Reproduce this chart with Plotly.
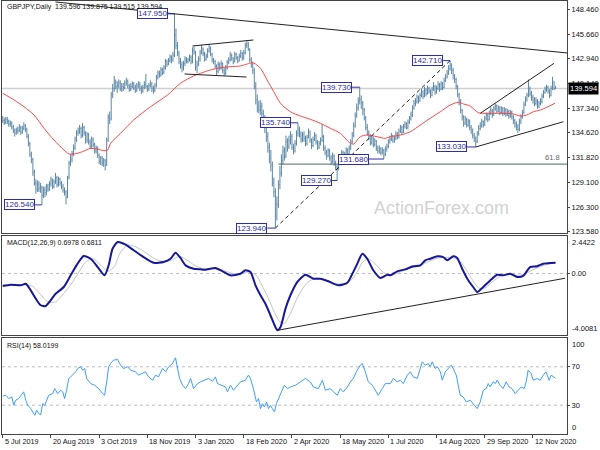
import pandas as pd
import plotly.graph_objects as go
from plotly.subplots import make_subplots

# ---------------- data ----------------
close = [
    136.0, 135.8, 136.1, 135.9, 135.6, 135.7, 135.3, 134.9, 134.6, 134.8,
    134.9, 135.2, 134.7, 135.1, 135.4, 135.0, 134.2, 133.4, 132.2, 131.6,
    130.2, 129.0, 128.3, 128.9, 128.4, 128.5, 127.6, 128.2, 127.9, 128.6,
    128.3, 128.9, 129.3, 128.6, 129.1, 129.6, 128.8, 129.4, 129.0, 128.6,
    128.2, 128.0, 127.4, 129.6, 131.2, 131.6, 132.3, 132.9, 133.9, 134.6,
    134.8, 135.1, 134.3, 135.2, 134.6, 133.8, 134.4, 133.6, 133.1, 133.9,
    133.3, 132.6, 132.9, 132.1, 131.4, 131.8, 131.2, 131.5, 131.0, 133.8,
    136.4, 136.2, 138.9, 139.6, 140.3, 139.8, 139.9, 140.2, 139.6, 139.8,
    139.7, 140.2, 140.4, 139.9, 139.5, 139.8, 140.1, 139.7, 139.4, 139.9,
    140.0, 139.6, 139.3, 139.7, 140.0, 139.8, 139.5, 139.9, 140.1, 139.6,
    139.4, 139.9, 140.8, 141.3, 141.1, 141.7, 141.4, 141.9, 142.6, 142.3,
    142.7, 143.1, 142.8, 143.3, 145.6, 144.4, 143.6, 142.6, 142.3, 142.0,
    142.4, 142.9, 142.6, 142.8, 143.1, 142.6, 143.9, 143.7, 142.0, 142.3,
    142.9, 143.6, 144.0, 143.5, 142.9, 143.2, 143.8, 144.1, 143.4, 142.8,
    142.6, 142.1, 141.5, 142.3, 141.9, 142.4, 141.6, 141.3, 141.9, 142.5,
    142.8, 143.3, 143.0, 142.6, 143.4, 143.1, 142.7, 143.2, 143.5, 143.0,
    143.6, 144.4, 144.6, 144.0, 142.8, 142.3, 141.6, 139.8, 138.3, 137.5,
    137.2, 137.6, 136.8, 136.0, 135.4, 134.2, 133.0, 131.8, 131.0, 129.0,
    128.0, 125.3, 126.6, 128.8, 130.1, 131.5, 132.6, 132.0, 133.6, 133.1,
    133.8, 134.2, 133.0, 132.6, 133.4, 134.6, 135.0, 134.5, 133.9, 134.4,
    134.0, 133.4, 134.1, 134.7, 133.8, 133.2, 133.9, 134.3, 133.6, 133.0,
    133.4, 133.8, 134.2, 132.9, 132.4, 132.0, 132.6, 131.8, 131.4, 132.0,
    131.2, 130.8, 130.6, 131.4, 131.9, 132.4, 131.8, 132.2, 132.7, 132.3,
    132.9, 133.6, 134.3, 135.4, 136.6, 137.4, 138.2, 138.4, 138.0, 137.2,
    136.3, 135.2, 134.6, 134.2, 133.5, 134.0, 133.3, 133.7, 132.9, 132.6,
    132.9, 132.4, 132.7, 132.2, 132.8, 133.1, 133.6, 133.9, 134.3, 133.7,
    134.0, 134.5, 134.1, 134.8, 135.2, 134.7, 135.3, 135.6, 135.2, 135.8,
    136.2, 136.6, 137.4, 137.9, 138.1, 138.6, 138.2, 138.8, 139.2, 138.7,
    139.4, 139.0, 139.6, 139.3, 138.8, 139.5, 139.8, 139.2, 139.6, 140.0,
    139.5, 140.1, 139.7, 140.5, 140.9, 141.3, 141.8, 142.2, 141.6, 141.0,
    140.6, 139.8, 138.9, 138.2, 137.1, 136.4, 135.7, 136.1, 135.5, 135.9,
    135.2, 134.8, 134.3, 134.0, 133.6, 134.5, 135.1, 135.4, 135.9, 135.5,
    136.2, 136.6, 136.1, 136.8, 137.1, 136.6, 137.3, 137.6, 137.0, 137.4,
    136.9, 137.3, 136.8, 137.2, 136.7, 137.0, 136.5, 136.9, 136.4, 136.0,
    135.6, 135.3, 135.0, 135.9, 136.4, 136.9, 137.8, 138.4, 138.8, 139.6,
    139.0, 138.6, 138.3, 137.9, 138.2, 137.6, 137.9, 138.1, 138.7, 139.1,
    139.5, 139.7, 139.3, 138.8, 139.6, 140.3, 139.6, 139.594,
]
high = [
    136.5, 136.3, 136.4, 136.4, 136.1, 136.0, 135.9, 135.5, 135.1, 135.2,
    135.3, 135.6, 135.4, 135.4, 135.8, 135.6, 135.2, 134.5, 133.6, 132.5,
    131.8, 130.5, 129.4, 129.3, 129.2, 129.0, 128.7, 128.6, 128.6, 128.9,
    128.9, 129.2, 129.7, 129.5, 129.4, 130.1, 129.8, 129.7, 129.6, 129.2,
    128.9, 128.5, 128.2, 129.8, 131.5, 132.2, 132.6, 133.3, 134.2, 134.9,
    135.2, 135.5, 135.3, 135.7, 135.4, 134.8, 134.7, 134.6, 133.9, 134.2,
    134.1, 133.5, 133.2, 133.1, 132.3, 132.0, 132.0, 131.8, 131.7, 134.1,
    136.7, 137.0, 139.2, 140.1, 141.0, 140.6, 140.4, 140.6, 140.5, 140.2,
    140.2, 140.5, 140.8, 140.6, 140.1, 140.2, 140.4, 140.3, 140.0, 140.2,
    140.4, 140.3, 139.9, 140.0, 140.4, 141.2, 140.0, 140.2, 140.5, 140.3,
    139.9, 140.2, 141.1, 141.6, 141.6, 142.0, 141.9, 142.2, 142.9, 142.8,
    143.0, 143.4, 143.3, 143.7, 147.95, 146.3, 144.8, 143.8, 143.0, 142.6,
    142.7, 143.2, 143.1, 143.0, 143.4, 143.3, 144.2, 144.3, 143.8, 142.7,
    143.2, 143.9, 144.5, 144.2, 143.7, 143.5, 144.1, 144.6, 144.3, 143.6,
    143.0, 142.8, 142.3, 142.6, 142.5, 142.7, 142.5, 141.9, 142.2, 142.8,
    143.1, 143.7, 143.5, 143.1, 143.7, 143.6, 143.2, 143.5, 143.9, 143.7,
    143.9, 144.7, 145.0, 144.8, 144.1, 143.1, 142.6, 141.9, 140.3, 138.9,
    138.2, 138.3, 138.0, 137.2, 136.6, 136.0, 134.7, 133.5, 132.7, 131.4,
    129.6, 128.4, 127.5, 129.3, 130.9, 132.2, 133.2, 133.0, 134.3, 134.0,
    134.3, 134.8, 134.5, 133.4, 133.8, 134.9, 135.74, 135.3, 134.8, 134.7,
    134.8, 134.3, 134.4, 135.1, 134.9, 134.0, 134.2, 134.7, 134.5, 133.8,
    133.7, 134.1, 135.6, 134.4, 133.2, 132.7, 132.9, 132.8, 132.1, 132.4,
    132.2, 131.5, 131.0, 131.7, 132.2, 132.7, 132.6, 132.5, 133.0, 132.9,
    133.2, 133.9, 134.7, 135.8, 136.9, 137.9, 138.6, 139.73, 138.8, 138.2,
    137.4, 136.5, 135.6, 134.9, 134.5, 134.3, 134.2, 134.0, 133.8, 133.2,
    133.2, 133.0, 133.0, 132.8, 133.1, 133.4, 133.9, 134.3, 134.6, 134.4,
    134.3, 134.8, 134.7, 135.1, 135.5, 135.4, 135.6, 135.9, 135.8, 136.1,
    136.5, 137.0, 137.7, 138.3, 138.5, 138.9, 138.8, 139.1, 139.6, 139.4,
    139.8, 139.6, 139.9, 139.8, 139.5, 139.8, 140.3, 140.0, 139.9, 140.4,
    140.2, 140.4, 140.3, 140.8, 141.2, 141.7, 142.2, 142.71, 142.4, 141.9,
    141.2, 140.8, 140.0, 139.1, 138.4, 137.3, 136.6, 136.5, 136.3, 136.2,
    136.1, 135.5, 135.1, 134.6, 134.2, 134.8, 135.5, 135.8, 136.2, 136.0,
    136.5, 136.9, 136.8, 137.1, 137.5, 137.3, 137.6, 137.9, 137.8, 137.7,
    137.6, 137.6, 137.5, 137.5, 137.4, 137.3, 137.2, 137.2, 137.1, 136.6,
    136.2, 135.9, 135.6, 136.2, 136.7, 137.2, 138.1, 138.7, 139.1, 140.6,
    139.8, 139.3, 138.9, 138.6, 138.6, 138.4, 138.2, 138.5, 139.0, 139.4,
    139.8, 140.0, 139.9, 139.5, 139.9, 140.9, 140.4, 139.875,
]
low = [
    135.7, 135.5, 135.6, 135.6, 135.3, 135.3, 135.0, 134.6, 134.2, 134.4,
    134.5, 134.7, 134.4, 134.5, 134.9, 134.7, 134.0, 133.1, 131.9, 131.2,
    129.8, 128.7, 127.8, 128.0, 128.0, 127.9, 126.54, 127.3, 127.4, 127.6,
    128.0, 128.1, 128.6, 128.3, 128.4, 128.9, 128.5, 128.6, 128.7, 128.3,
    127.9, 127.6, 126.6, 127.3, 129.4, 130.9, 131.3, 132.0, 132.7, 133.6,
    134.3, 134.5, 134.0, 134.1, 134.3, 133.4, 133.5, 133.3, 132.8, 132.9,
    133.0, 132.3, 132.3, 131.8, 131.1, 131.0, 130.9, 130.8, 130.4, 130.9,
    133.6, 135.6, 136.0, 138.5, 139.2, 139.5, 139.1, 139.6, 139.3, 139.2,
    139.3, 139.5, 139.9, 139.6, 139.2, 139.3, 139.6, 139.4, 139.1, 139.2,
    139.6, 139.3, 139.0, 139.1, 139.5, 139.6, 139.2, 139.3, 139.7, 139.2,
    139.0, 139.2, 139.7, 140.6, 140.8, 140.9, 141.1, 141.2, 141.7, 142.0,
    142.2, 142.5, 142.4, 142.6, 143.1, 144.0, 143.2, 142.3, 141.8, 141.4,
    141.6, 142.1, 142.4, 142.4, 142.6, 142.3, 142.4, 143.4, 141.6, 141.3,
    142.1, 142.6, 143.4, 143.2, 142.6, 142.7, 143.0, 143.6, 143.2, 142.5,
    142.3, 141.8, 141.1, 141.3, 141.6, 141.7, 141.3, 141.0, 141.1, 141.7,
    142.3, 142.6, 142.7, 142.3, 142.5, 142.8, 142.4, 142.6, 143.0, 142.7,
    142.8, 143.4, 144.1, 143.8, 142.5, 141.9, 141.2, 139.5, 137.8, 136.9,
    136.8, 136.6, 136.4, 135.6, 134.6, 133.6, 132.4, 131.2, 130.3, 128.6,
    127.4, 123.94, 124.8, 126.2, 128.3, 129.7, 131.1, 131.5, 131.8, 132.5,
    132.8, 133.3, 132.7, 132.2, 132.4, 133.2, 134.2, 134.1, 133.5, 133.6,
    133.6, 133.1, 133.2, 134.0, 133.5, 132.8, 133.0, 133.7, 133.3, 132.7,
    132.8, 133.2, 133.6, 132.6, 132.1, 131.6, 131.9, 131.5, 131.0, 131.2,
    130.9, 130.4, 129.27, 130.4, 131.1, 131.6, 131.5, 131.6, 132.0, 132.0,
    132.1, 132.7, 133.4, 134.1, 135.2, 136.3, 137.1, 137.8, 137.3, 136.6,
    136.0, 134.9, 134.3, 133.8, 133.2, 133.3, 133.0, 133.1, 132.6, 132.3,
    132.3, 132.1, 132.2, 131.68, 132.0, 132.5, 132.9, 133.4, 133.7, 133.5,
    133.5, 133.8, 133.9, 134.0, 134.6, 134.4, 134.6, 135.1, 135.0, 135.0,
    135.6, 136.0, 136.4, 137.2, 137.6, 137.9, 137.9, 138.1, 138.6, 138.4,
    138.6, 138.7, 138.9, 139.0, 138.5, 138.7, 139.3, 138.9, 139.0, 139.4,
    139.2, 139.4, 139.4, 139.6, 140.3, 140.7, 141.1, 141.6, 141.2, 140.6,
    140.2, 139.5, 138.6, 137.7, 136.8, 136.0, 135.3, 135.5, 135.2, 135.3,
    134.9, 134.5, 134.0, 133.6, 133.03, 133.5, 134.3, 134.9, 135.2, 135.2,
    135.4, 136.0, 135.8, 136.0, 136.6, 136.3, 136.5, 137.1, 136.8, 136.9,
    136.6, 136.7, 136.5, 136.6, 136.4, 136.5, 136.2, 136.3, 136.1, 135.6,
    135.2, 134.9, 134.6, 134.8, 135.6, 136.2, 136.7, 137.6, 138.1, 138.6,
    138.7, 138.2, 137.9, 137.6, 137.7, 137.3, 137.4, 137.7, 137.9, 138.5,
    139.0, 139.2, 139.0, 138.5, 138.7, 139.4, 139.4, 139.515,
]

# moving average (red line), sampled at bar positions
ma_x = [0, 7.5, 14.1, 20.8, 27.4, 34.0, 40.6, 44.0, 47.3, 52.9,
        58.4, 62.8, 67.2, 69.6, 71.6, 78.2, 86.9, 98.1, 109.4, 118.0,
        126.7, 131.3, 137.9, 144.6, 151.2, 157.8, 162.3, 165.6, 167.8, 171.1,
        175.5, 179.9, 184.4, 191.0, 197.6, 204.2, 210.9, 217.5, 224.1, 230.8,
        233.0, 237.4, 241.8, 248.5, 254.0, 257.3, 263.9, 270.6, 277.2, 283.8,
        290.5, 297.1, 302.6, 305.9, 310.3, 315.8, 321.4, 328.0, 334.7, 339.1,
        343.5, 347.9, 352.3, 356.8, 361.2, 366.6]
ma_y = [139.05, 138.30, 137.54, 136.61, 135.12, 133.81, 132.69, 132.24, 132.24, 132.50,
        132.88, 132.80, 132.61, 132.69, 133.44, 134.56, 136.05, 137.54, 138.86, 140.17,
        140.99, 141.29, 141.66, 141.92, 142.03, 142.11, 142.33, 142.48, 142.33, 141.85,
        140.54, 139.23, 137.93, 136.98, 136.50, 136.13, 135.68, 135.12, 134.56, 133.44,
        133.36, 134.18, 134.37, 134.18, 134.00, 134.18, 134.37, 134.74, 135.49, 136.24,
        136.98, 137.73, 138.04, 137.85, 137.62, 136.87, 136.80, 136.80, 136.80, 136.73,
        136.50, 136.61, 136.98, 137.17, 137.48, 137.93]

# MACD(12,26,9)
macd_x = [0, 5.3, 11.9, 15.3, 18.6, 21.9, 25.2, 28.5, 31.8, 35.1,
          40.5, 45.1, 49.7, 53.7, 58.4, 63.0, 67.6, 70.3, 72.9, 76.3,
          81.6, 86.9, 93.5, 100.1, 106.8, 111.4, 114.7, 118.0, 121.4, 126.7,
          131.3, 134.6, 141.2, 145.9, 151.2, 157.8, 161.1, 164.5, 167.8, 171.1,
          174.4, 177.7, 181.0, 182.4, 184.4, 187.7, 191.0, 195.6, 200.9, 206.2,
          210.9, 216.2, 222.8, 228.8, 232.1, 235.4, 238.7, 242.0, 246.0, 250.7,
          255.3, 257.3, 261.9, 267.2, 272.5, 277.2, 280.5, 283.8, 288.5, 292.4,
          295.1, 299.1, 301.7, 305.0, 308.4, 312.3, 315.0, 319.0, 323.6, 328.2,
          332.2, 336.9, 341.5, 345.5, 350.1, 354.8, 358.8, 363.4, 367]
macd_y = [-0.82, -0.73, -0.77, -0.67, -1.10, -1.64, -2.07, -2.12, -1.75, -1.32,
          -0.88, -0.12, 0.64, 1.14, 0.96, 0.42, -0.12, 0.53, 1.61, 2.05,
          1.88, 1.51, 1.07, 0.70, 0.75, 0.96, 1.35, 1.01, 0.53, 0.31,
          0.27, 0.25, 0.36, 0.14, -0.12, -0.02, 0.21, 0.10, -0.77, -1.42,
          -1.97, -2.72, -3.49, -3.70, -3.49, -2.29, -1.42, -0.55, -0.08, -0.34,
          -0.34, -0.51, -0.77, -0.60, -0.02, 0.64, 1.29, 0.96, 0.21, -0.29,
          -0.08, -0.12, 0.14, 0.27, 0.47, 0.53, 0.86, 0.96, 1.12, 1.07,
          0.86, 1.12, 1.01, 0.31, -0.34, -0.88, -1.21, -0.88, -0.45, -0.08,
          -0.12, -0.02, -0.23, -0.16, 0.42, 0.47, 0.64, 0.69, 0.6978]
signal_x = [0, 8, 15, 20, 25, 30, 35, 40, 45, 50,
            55, 60, 65, 70, 74, 78, 83, 88, 95, 101,
            107, 112, 117, 122, 127, 133, 140, 146, 152, 158,
            163, 168, 172, 176, 180, 184, 187, 191, 196, 202,
            208, 214, 220, 226, 231, 235, 239, 243, 248, 253,
            258, 264, 270, 277, 283, 289, 295, 300, 304, 308,
            312, 316, 320, 325, 330, 336, 342, 347, 352, 357,
            362, 367]
signal_y = [-0.75, -0.74, -0.73, -0.85, -1.35, -1.85, -1.85, -1.35, -0.75, 0.0,
            0.75, 0.95, 0.55, 0.15, 0.45, 1.35, 1.85, 1.75, 1.35, 0.95,
            0.78, 0.85, 1.12, 0.90, 0.55, 0.32, 0.30, 0.22, 0.02, -0.02,
            0.10, -0.10, -0.75, -1.55, -2.45, -3.15, -3.25, -2.60, -1.50, -0.60,
            -0.30, -0.40, -0.62, -0.70, -0.45, 0.05, 0.75, 0.95, 0.55, 0.05,
            -0.10, 0.10, 0.35, 0.50, 0.80, 1.00, 1.05, 1.00, 0.75, 0.20,
            -0.45, -0.95, -0.95, -0.55, -0.20, -0.07, -0.12, -0.02, 0.25, 0.45,
            0.60, 0.6811]

# RSI(14)
rsi_x = [0, 2.0, 4.0, 6.0, 7.3, 8.6, 10.6, 13.3, 13.9, 15.3,
         16.6, 18.6, 19.9, 21.2, 22.5, 23.9, 25.2, 26.5, 27.9, 29.2,
         30.5, 33.2, 34.5, 36.5, 38.5, 39.8, 41.1, 42.4, 43.8, 45.1,
         46.4, 48.4, 49.7, 51.7, 53.1, 54.4, 55.7, 58.4, 61.0, 63.7,
         66.3, 67.6, 69.0, 70.3, 71.6, 73.6, 76.3, 78.2, 80.2, 82.9,
         84.9, 88.2, 90.2, 92.8, 94.8, 96.8, 99.5, 101.5, 103.4, 106.1,
         108.1, 110.1, 112.7, 114.7, 116.0, 117.4, 119.4, 121.4, 123.3, 124.7,
         126.7, 129.3, 131.3, 134.6, 136.6, 139.3, 141.2, 142.6, 145.9, 147.9,
         149.2, 151.2, 153.2, 155.8, 157.8, 161.1, 163.1, 164.5, 166.4, 168.4,
         169.8, 171.1, 172.4, 173.7, 175.1, 176.4, 177.7, 179.0, 180.4, 181.7,
         183.0, 185.0, 187.0, 189.0, 191.0, 194.3, 197.6, 200.9, 204.2, 206.2,
         209.5, 212.2, 214.2, 217.5, 219.5, 222.1, 224.1, 226.1, 228.8, 230.8,
         232.8, 234.7, 237.4, 238.7, 240.7, 242.7, 245.4, 247.3, 249.3, 252.0,
         254.0, 257.3, 259.3, 261.9, 263.9, 265.9, 268.6, 270.6, 272.5, 275.2,
         277.2, 278.5, 280.5, 282.5, 283.8, 285.1, 287.1, 288.5, 290.5, 291.8,
         293.8, 295.8, 297.7, 299.1, 301.1, 302.4, 303.7, 305.7, 307.7, 310.3,
         312.3, 313.7, 315.0, 317.0, 319.0, 321.0, 322.3, 323.6, 325.6, 327.0,
         328.2, 330.2, 332.2, 334.2, 336.2, 338.2, 340.2, 342.2, 344.2, 346.2,
         347.5, 348.8, 350.8, 352.2, 354.8, 356.8, 358.8, 360.7, 362.7, 364.1,
         366.0, 367]
rsi_y = [39.4, 40.4, 36.9, 38.6, 30, 35.2, 36.9, 42, 43.9, 35.2,
         30, 26.4, 23, 19.5, 24.8, 21.2, 20.2, 31.6, 30, 35.2,
         40.4, 42, 47.3, 42, 45.6, 43.9, 36.9, 45.6, 57.8, 59.5,
         61.3, 64.8, 68.2, 70, 66.5, 68.2, 57.8, 52.5, 50.8, 47.3,
         42, 40.4, 54.3, 70, 73.4, 77, 77.6, 71.7, 68.2, 70,
         66.5, 64.8, 61.3, 63, 64.8, 59.5, 56, 61.3, 59.5, 68.2,
         64.8, 70, 73.4, 79.4, 70, 57.8, 50.8, 47.3, 52.5, 57.8,
         47.3, 52.5, 54.3, 56, 57.8, 55, 59.5, 52.5, 50.8, 49,
         43.9, 50.8, 45.6, 50.8, 54.3, 56, 61.3, 57.8, 47.3, 33.4,
         36.9, 26.4, 31.6, 28.2, 33.4, 26.4, 30, 26.4, 23, 31.6,
         36.9, 43.9, 50.8, 47.3, 49, 50.8, 54.3, 57.8, 54.3, 49,
         47.3, 56, 45.6, 47.3, 43.9, 40.4, 47.3, 43.9, 49, 54.3,
         57.8, 64.8, 71.7, 73.4, 64.8, 54.3, 50.8, 45.6, 40.4, 47.3,
         52.5, 52.5, 57.8, 54.3, 56, 52.5, 61.3, 64.8, 59.5, 57.8,
         70, 75.2, 71.7, 73.4, 70, 75.2, 68.2, 70, 64.8, 56,
         64.8, 68.2, 71.7, 68.2, 61.3, 50.8, 40.4, 38.6, 33.4, 35.2,
         31.6, 28.2, 26.4, 33.4, 45.6, 47.3, 52.5, 49, 54.3, 52.5,
         56, 50.8, 47.3, 54.3, 49, 47.3, 42, 45.6, 49, 47.3,
         54.3, 66.5, 63, 56, 57.8, 56, 61.3, 64.8, 56, 61.3,
         59.5, 58.02]

# swing labels: (bar index, price)
swing_bars = [114, 26, 181, 196, 237, 297, 253, 222, 314]
swing_prices = [147.95, 126.54, 123.94, 135.74, 139.73, 142.71, 131.68, 129.27, 133.03]

# trend lines drawn on the chart: (bar0, price0, bar1, price1, dash)
trend_lines = [
    (35, 149.28, 375, 143.56, "solid"),
    (126.0, 144.35, 166.4, 145.02, "solid"),
    (120.7, 141.21, 161.8, 140.87, "solid"),
    (181, 123.94, 297, 142.71, "dash"),
    (317.0, 136.80, 366.0, 142.41, "solid"),
    (314, 133.03, 372.2, 135.86, "solid"),
]
macd_trend = (182.4, -3.70, 373.3, -0.31)
fib_start_bar = 183
fib_high, fib_low = 142.71, 123.94

x_tick_labels = ["5 Jul 2019", "20 Aug 2019", "3 Oct 2019", "18 Nov 2019", "3 Jan 2020",
                 "18 Feb 2020", "2 Apr 2020", "18 May 2020", "1 Jul 2020", "14 Aug 2020",
                 "29 Sep 2020", "12 Nov 2020"]
price_ticks = [148.460, 145.660, 142.940, 140.140, 137.340, 134.620, 131.820, 129.100, 126.300, 123.580]
macd_range = [-4.0081, 2.4422]
rsi_levels = [70, 30]
rsi_range = [0, 100]

header = "GBPJPY,Daily  139.596 139.875 139.515 139.594"
macd_label = "MACD(12,26,9) 0.6978 0.6811"
rsi_label = "RSI(14) 58.0199"

# ---------------- styling ----------------
FONT = "Liberation Sans"
BAR = "#5a87a6"
LBL = "#2d2daa"
n = len(close)
idx = list(range(n))
opens = [close[0]] + close[:-1]
hi = [max(h, o, c) for h, o, c in zip(high, opens, close)]
lo = [min(l, o, c) for l, o, c in zip(low, opens, close)]

all_days = pd.bdate_range("2019-07-05", "2020-12-31")
holidays = pd.to_datetime(["2019-12-25", "2020-01-01"])
dates = all_days[~all_days.isin(holidays)][:n]
tick_idx = [int(dates.get_loc(pd.to_datetime(t, format="%d %b %Y"))) for t in x_tick_labels]

XR = [-0.5, 374.6]

fig = make_subplots(rows=3, cols=1, shared_xaxes=False)

# price panel
fib_level = fib_high - 0.618 * (fib_high - fib_low)
fig.add_trace(go.Scatter(x=[fib_start_bar, XR[1] + 5], y=[fib_level, fib_level],
                         mode="lines", line=dict(color="#4d6666", width=1), hoverinfo="skip"),
              row=1, col=1)
fig.add_trace(go.Ohlc(x=idx, open=opens, high=hi, low=lo, close=close,
                      increasing=dict(line=dict(color=BAR, width=1)),
                      decreasing=dict(line=dict(color=BAR, width=1)),
                      tickwidth=0.35, hoverinfo="skip"), row=1, col=1)
fig.add_trace(go.Scatter(x=ma_x, y=ma_y, mode="lines",
                         line=dict(color="#ff4545", width=1, shape="spline", smoothing=0.8),
                         hoverinfo="skip"), row=1, col=1)
for x0, y0, x1, y1, d in trend_lines:
    fig.add_trace(go.Scatter(x=[x0, x1], y=[y0, y1], mode="lines",
                             line=dict(color="#222222", width=1,
                                       dash="4px,3px" if d == "dash" else "solid"),
                             hoverinfo="skip"), row=1, col=1)

gaps = [4.5, 4.5, 5.3, 4.6, 5.3, 4.6, 10, 3.3, 6]
annotations = []
for b, p, g in zip(swing_bars, swing_prices, gaps):
    fig.add_trace(go.Scatter(x=[b - g, b], y=[p, p], mode="lines",
                             line=dict(color=LBL, width=1), hoverinfo="skip"), row=1, col=1)
    annotations.append(dict(x=b - g, y=p, xref="x", yref="y", xanchor="right", yanchor="middle",
                            text=f"{p:.3f}", showarrow=False,
                            font=dict(family=FONT, size=8, color=LBL),
                            bordercolor=LBL, borderwidth=1, borderpad=0, bgcolor="white"))

# MACD panel
fig.add_trace(go.Scatter(x=signal_x, y=signal_y, mode="lines",
                         line=dict(color="#c4c4c4", width=1, shape="spline", smoothing=0.7),
                         hoverinfo="skip"), row=2, col=1)
fig.add_trace(go.Scatter(x=macd_x, y=macd_y, mode="lines",
                         line=dict(color="#17179a", width=2, shape="spline", smoothing=0.6),
                         hoverinfo="skip"), row=2, col=1)
fig.add_trace(go.Scatter(x=[macd_trend[0], macd_trend[2]], y=[macd_trend[1], macd_trend[3]],
                         mode="lines", line=dict(color="#222222", width=1), hoverinfo="skip"),
              row=2, col=1)

# RSI panel
fig.add_trace(go.Scatter(x=rsi_x, y=rsi_y, mode="lines",
                         line=dict(color="#3d9dff", width=1), hoverinfo="skip"), row=3, col=1)

shapes = [
    dict(type="line", xref="x domain", yref="y", x0=0, x1=1, y0=close[-1], y1=close[-1],
         line=dict(color="#cfcfcf", width=1.5), layer="below"),
    dict(type="line", xref="x2 domain", yref="y2", x0=0, x1=1, y0=0, y1=0,
         line=dict(color="#bdbdbd", width=1, dash="dot"), layer="below"),
]
for lv in rsi_levels:
    shapes.append(dict(type="line", xref="x3 domain", yref="y3", x0=0, x1=1, y0=lv, y1=lv,
                       line=dict(color="#bdbdbd", width=1, dash="dot"), layer="below"))

small = dict(family=FONT, size=7, color="#111111")
xlab = dict(family=FONT, size=7.3, color="#111111")
axfont = dict(family=FONT, size=7.5, color="#111111")
annotations += [
    dict(x=0.006, y=0.998, xref="x domain", yref="y domain", xanchor="left", yanchor="top",
         text=header, showarrow=False, font=small),
    dict(x=0.006, y=0.985, xref="x2 domain", yref="y2 domain", xanchor="left", yanchor="top",
         text=macd_label, showarrow=False, font=small),
    dict(x=0.006, y=0.975, xref="x3 domain", yref="y3 domain", xanchor="left", yanchor="top",
         text=rsi_label, showarrow=False, font=small),
    dict(x=1, y=close[-1], xref="x domain", yref="y", xanchor="left", yanchor="middle",
         text=f"{close[-1]:.3f}", showarrow=False, bgcolor="#000000", borderpad=1,
         font=dict(family=FONT, size=7.5, color="white"), xshift=1),
    dict(x=0.992, y=fib_level, xref="x domain", yref="y",
         xanchor="right", yanchor="bottom", text="61.8", showarrow=False,
         font=dict(family=FONT, size=7.5, color="#666666")),
    dict(x=291.5, y=126.2, xref="x", yref="y", text="ActionForex.com", showarrow=False,
         font=dict(family=FONT, size=18, color="#d2d2d2")),
    # edge labels of the indicator scales, placed just inside the panel like the original
    dict(x=1, y=1, xref="x2 domain", yref="y2 domain", xanchor="left", yanchor="top", xshift=3,
         text=f"{macd_range[1]:.4f}", showarrow=False, font=axfont),
    dict(x=1, y=0, xref="x2 domain", yref="y2 domain", xanchor="left", yanchor="bottom", xshift=3,
         text=f"{macd_range[0]:.4f}", showarrow=False, font=axfont),
    dict(x=1, y=1, xref="x3 domain", yref="y3 domain", xanchor="left", yanchor="top", xshift=3,
         text=f"{rsi_range[1]}", showarrow=False, font=axfont),
    dict(x=1, y=0, xref="x3 domain", yref="y3 domain", xanchor="left", yanchor="bottom", xshift=3,
         text=f"{rsi_range[0]}", showarrow=False, font=axfont),
]
for t, ti in zip(x_tick_labels, tick_idx):
    annotations.append(dict(x=ti, y=0, xref="x3", yref="y3 domain", xanchor="left", yanchor="top",
                            yshift=-1, text=t, showarrow=False, font=xlab))

axis_common = dict(showgrid=False, zeroline=False, showline=True, linecolor="#444444",
                   linewidth=1, mirror=True)
ytick = dict(ticks="outside", ticklen=2, tickcolor="#444", tickfont=dict(size=7.5),
             automargin=False)
fig.update_layout(
    width=600, height=450,
    margin=dict(l=2, r=33, t=1, b=16),
    paper_bgcolor="white", plot_bgcolor="white",
    showlegend=False,
    font=dict(family=FONT, size=8, color="#111111"),
    shapes=shapes, annotations=annotations,
    xaxis=dict(range=XR, showticklabels=False, rangeslider=dict(visible=False), **axis_common),
    xaxis2=dict(range=XR, showticklabels=False, **axis_common),
    xaxis3=dict(range=XR, showticklabels=False, ticks="outside", ticklen=3, tickcolor="#444",
                tickvals=tick_idx, **axis_common),
    yaxis=dict(domain=[0.4642, 1.0], range=[123.39, 149.39], side="right",
               tickvals=price_ticks, ticktext=[f"{v:.3f}" for v in price_ticks],
               **ytick, **axis_common),
    yaxis2=dict(domain=[0.2286, 0.4573], range=macd_range, side="right",
                tickvals=[0.0], ticktext=["0.00"], **ytick, **axis_common),
    yaxis3=dict(domain=[0.0, 0.2217], range=rsi_range, side="right",
                tickvals=rsi_levels, **ytick, **axis_common),
)

fig.write_html("out.html", config={"displayModeBar": False},
               post_script="document.body.style.margin='0';document.body.style.padding='0';")
